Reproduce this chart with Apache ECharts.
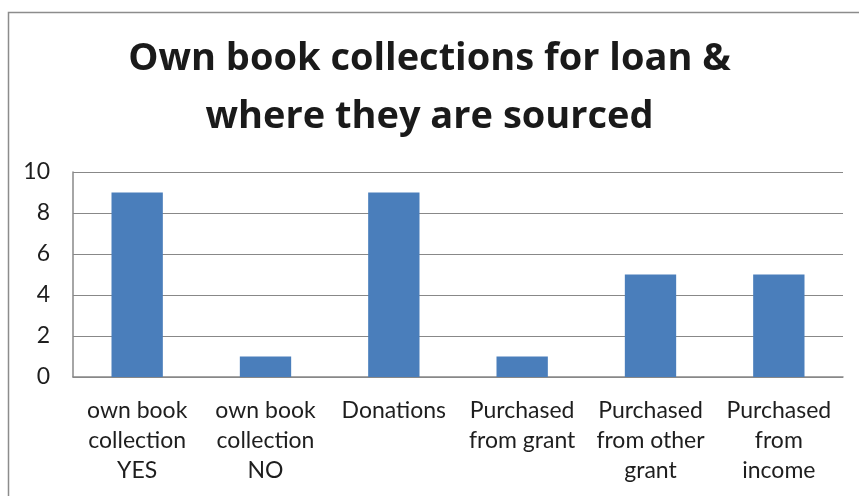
<!DOCTYPE html>
<html>
<head>
<meta charset="utf-8">
<script src="https://cdn.jsdelivr.net/npm/echarts@6/dist/echarts.min.js"></script>
<style>
  html, body { margin: 0; padding: 0; background: #fff; }
  #chart { width: 859px; height: 496px; }
</style>
</head>
<body>
<div id="chart"></div>
<script>
const categories = [
  'own book\ncollection\nYES',
  'own book\ncollection\nNO',
  'Donations',
  'Purchased\nfrom grant',
  'Purchased\nfrom other\ngrant',
  'Purchased\nfrom\nincome'
];
const counts = [9, 1, 9, 1, 5, 5];
const yTicks = { min: 0, max: 10, interval: 2 };
const titleText = 'Own book collections for loan &\nwhere they are sourced';

const chart = echarts.init(document.getElementById('chart'), null, { renderer: 'canvas' });
chart.setOption({
  animation: false,
  backgroundColor: '#ffffff',
  graphic: [{
    type: 'rect',
    shape: { x: 8.5, y: 12.5, width: 1000, height: 1000 },
    style: { fill: 'none', stroke: '#8c8c8c', lineWidth: 1.5 },
    z: -1
  }],
  title: {
    text: titleText,
    left: 'center',
    top: 25,
    textStyle: {
      fontFamily: 'Open Sans',
      fontWeight: 'bold',
      fontSize: 38,
      lineHeight: 58,
      color: '#1a1a1a'
    }
  },
  grid: { left: 73, right: 16, top: 172, bottom: 119, containLabel: false },
  xAxis: {
    type: 'category',
    data: categories,
    axisLine: { show: true, lineStyle: { color: '#888', width: 1.5 } },
    axisTick: { show: false },
    axisLabel: {
      interval: 0,
      margin: 19,
      fontFamily: 'Lato',
      fontSize: 23,
      lineHeight: 30,
      color: '#1e1e1e'
    }
  },
  yAxis: {
    type: 'value',
    min: yTicks.min,
    max: yTicks.max,
    interval: yTicks.interval,
    axisLine: { show: true, lineStyle: { color: '#888', width: 1.5 } },
    axisTick: { show: false },
    splitLine: { lineStyle: { color: '#888', width: 1.2 } },
    axisLabel: {
      margin: 23,
      fontFamily: 'Lato',
      fontSize: 23,
      color: '#1e1e1e'
    }
  },
  series: [{
    type: 'bar',
    data: counts,
    barWidth: '40%',
    itemStyle: { color: '#4a7ebb' }
  }]
});
</script>
</body>
</html>
